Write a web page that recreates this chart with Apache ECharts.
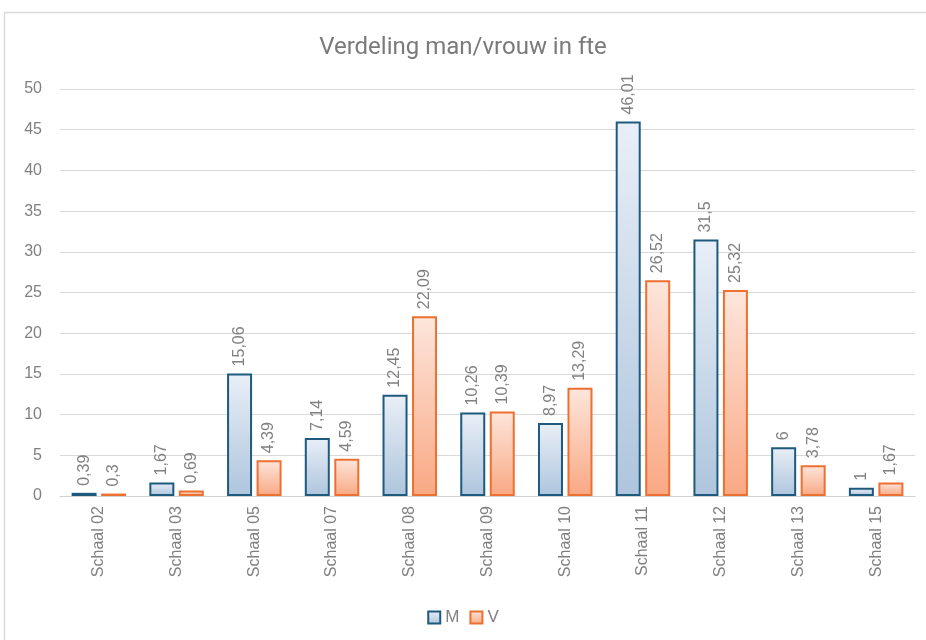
<!DOCTYPE html>
<html>
<head>
<meta charset="utf-8">
<script src="https://cdn.jsdelivr.net/npm/echarts@6/dist/echarts.min.js"></script>
<style>
    html, body { margin: 0; padding: 0; background: #fff; }
    #chart { width: 926px; height: 640px; }
</style>
</head>
<body>
<div id="chart"></div>
<script>
    // categorieën en waarden
    var categories = ['Schaal 02', 'Schaal 03', 'Schaal 05', 'Schaal 07', 'Schaal 08', 'Schaal 09', 'Schaal 10', 'Schaal 11', 'Schaal 12', 'Schaal 13', 'Schaal 15'];
    var valuesM = [0.39, 1.67, 15.06, 7.14, 12.45, 10.26, 8.97, 46.01, 31.5, 6, 1];
    var valuesV = [0.3, 0.69, 4.39, 4.59, 22.09, 10.39, 13.29, 26.52, 25.32, 3.78, 1.67];

    var myChart = echarts.init(document.getElementById('chart'));

    // label met komma als decimaalteken
    function fmt (p) {
        return String(p.value).replace('.', ',');
    }

    function grad (top, bottom) {
        return new echarts.graphic.LinearGradient(0, 0, 0, 1, [
            { offset: 0, color: top },
            { offset: 1, color: bottom }
        ]);
    }

    var labelStyle = {
        show: true,
        position: 'top',
        rotate: 90,
        align: 'left',
        verticalAlign: 'middle',
        distance: 7,
        color: '#808080',
        fontSize: 16,
        fontFamily: 'Liberation Sans, Arial, sans-serif',
        formatter: fmt
    };

    var options = {
        animation: false,
        title: {
            text: 'Verdeling man/vrouw in fte',
            left: 'center',
            top: 31,
            textStyle: {
                color: '#7a7a7a',
                fontSize: 24,
                fontWeight: 'normal',
                fontFamily: 'Liberation Sans Narrow, Roboto, sans-serif'
            }
        },
        graphic: [{
            type: 'rect',
            shape: { x: 4.5, y: 12.5, width: 940, height: 660 },
            style: { fill: 'none', stroke: '#d9d9d9', lineWidth: 1.5 },
            silent: true
        }],
        legend: {
            bottom: 9,
            left: 'center',
            icon: 'rect',
            itemWidth: 12,
            itemHeight: 12,
            itemGap: 10,
            textStyle: { color: '#808080', fontSize: 17, fontFamily: 'Liberation Sans, Arial, sans-serif' },
            data: ['M', 'V']
        },
        grid: {
            left: 60,
            right: 11,
            top: 89,
            bottom: 144
        },
        xAxis: {
            type: 'category',
            data: categories,
            axisLine: { lineStyle: { color: '#d0d0d0' } },
            axisTick: { show: false },
            axisLabel: {
                rotate: 90,
                color: '#808080',
                fontSize: 16,
                margin: 10,
                fontFamily: 'Liberation Sans, Arial, sans-serif'
            }
        },
        yAxis: {
            type: 'value',
            min: 0,
            max: 50,
            interval: 5,
            axisLine: { show: false },
            axisTick: { show: false },
            axisLabel: {
                color: '#808080',
                fontSize: 16,
                margin: 18,
                fontFamily: 'Liberation Sans, Arial, sans-serif'
            },
            splitLine: { lineStyle: { color: '#d9d9d9', width: 1 } }
        },
        series: [{
            name: 'M',
            type: 'bar',
            data: valuesM,
            barWidth: 25,
            barGap: '18%',
            itemStyle: {
                color: grad('#e9eff7', '#aec5dd'),
                borderColor: '#1d5a7e',
                borderWidth: 2
            },
            label: labelStyle
        }, {
            name: 'V',
            type: 'bar',
            data: valuesV,
            barWidth: 25,
            itemStyle: {
                color: grad('#fde6dc', '#f9a883'),
                borderColor: '#ee7031',
                borderWidth: 2
            },
            label: labelStyle
        }]
    };

    myChart.setOption(options);
</script>
</body>
</html>
